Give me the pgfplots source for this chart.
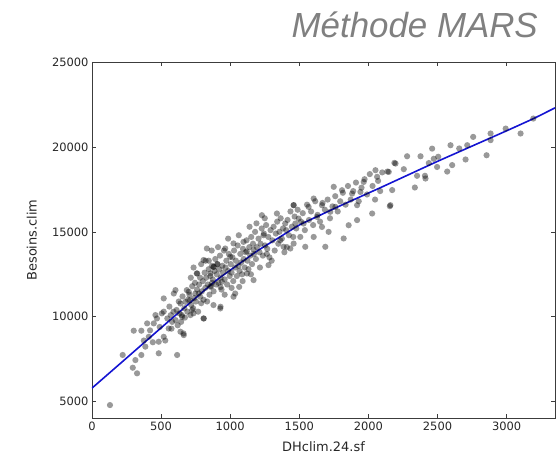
\documentclass[border=0pt]{standalone}
\usepackage{fontspec}
\usepackage{pgfplots}
\pgfplotsset{compat=1.18}
\newfontfamily\dejavu{DejaVu Sans}
\newfontfamily\libsans{Liberation Sans}
\definecolor{titlegray}{RGB}{128,128,128}
\definecolor{axisgray}{RGB}{60,60,60}
\definecolor{fitblue}{RGB}{20,20,210}

\pgfplotstableread{
x y
130 4800
222 7750
295 7000
326 6670
314 7450
357 7750
302 9180
357 9180
386 8240
375 8600
411 8820
399 9610
447 9610
459 10100
483 7850
483 8530
519 8820
519 11080
519 10300
555 9310
580 9700
570 10100
604 11570
592 11370
616 7750
640 9120
652 10000
664 8920
676 10880
640 10780
700 11470
725 10400
748 11370
761 12550
773 11370
809 9900
822 13300
845 13300
857 12550
869 12000
881 12940
906 13100
930 11750
930 10590
650 10100
662 9020
734 10200
807 9900
879 10690
928 10490
1036 11370
1065 11760
807 13340
758 12550
831 14020
1024 14320
964 14020
1096 14410
1120 13850
1169 13950
1229 15980
1338 16080
1241 14800
1265 13700
1277 13040
1362 14500
1410 14100
1459 16570
1471 15490
1435 14020
1000 13530
879 12940
1024 11180
940 12060
855 11770
783 11180
710 10980
686 11570
1121 12550
1169 12160
2196 19020
2051 18630
2147 18530
2063 18240
2159 16570
2027 16080
1966 17940
1918 16570
1882 17250
1809 17450
1749 17650
1761 16470
1857 15390
1918 15690
1821 14610
1724 16180
1664 16570
1604 16960
1567 16470
1459 16570
1398 15490
1495 15780
1531 15490
1628 15880
1664 15290
1712 15000
1604 14700
1507 14700
1459 14310
1386 14120
1543 14120
1688 14120
1942 17350
3193 21670
3101 20790
2993 21080
2884 20790
2884 20400
2758 20590
2855 19510
2715 20100
2703 19260
2657 19910
2594 20100
2606 18930
2570 18550
2505 19420
2461 19900
2473 19300
2437 19050
2497 18820
2377 19450
2280 19450
2256 18690
2188 19060
2138 18550
2100 18500
2352 18300
2409 18300
2413 18140
2336 17610
2155 16510
2172 17460
605 9800
612 10400
620 9500
628 10900
633 10200
645 9700
655 11200
668 10500
672 9950
690 10300
695 11000
705 11300
712 10100
718 10700
725 11800
732 10500
740 11100
745 12000
752 10900
760 11600
768 10300
775 11900
782 12300
790 10800
795 11500
802 12100
808 11000
815 12600
820 11700
826 12300
833 10900
838 11900
844 12800
850 11300
856 12400
862 11800
868 13000
874 12200
880 11500
886 12700
892 13400
898 11900
903 12500
908 13100
915 12000
920 12800
926 13600
931 12300
937 11600
943 13000
948 12600
955 13900
960 12200
966 12900
972 13300
978 11900
985 12700
990 13700
996 12400
1004 13100
1010 12600
1016 13500
1022 12100
1028 13900
1035 12900
1041 13300
1048 12400
1054 14200
1060 13000
1067 12700
1073 13700
1080 13200
1086 12500
1092 14000
1098 13400
1105 12900
1112 13800
1118 14500
1125 13300
1132 12800
1138 14100
1145 13600
1152 14700
1158 13100
1165 14300
1172 13700
1180 15000
1186 13400
1193 14100
1205 14600
1212 13800
1220 14300
1228 15200
1236 13600
1244 14900
1252 14200
1260 15400
1268 14000
1276 14700
1284 13500
1292 15100
1305 14500
1314 15300
1322 13900
1330 14900
1340 15600
1348 14300
1356 15000
1365 15800
1374 14600
1382 15200
1392 13800
1405 15100
1415 15700
1425 14800
1436 16200
1446 15300
1456 14700
1466 15900
1478 15200
1488 16300
1512 15600
1525 16100
1540 15100
1556 16600
1570 15700
1585 16200
1600 15400
1615 16800
1632 16000
1650 15600
1668 16700
1685 16300
1705 16900
1722 15800
1740 16500
1760 17100
1778 16200
1796 16800
1815 17300
1835 16600
1852 17700
1872 16900
1890 17400
1910 17900
1930 16800
1950 17600
1972 18100
1990 17200
2010 18400
2030 17700
2048 16900
2070 18000
2085 17400
420 9200
440 8500
470 9900
490 9400
505 10200
530 8600
545 9900
560 10600
575 9300
590 10300
715 12300
735 12900
790 13100
866 13900
912 14100
985 14600
1062 14800
1140 15300
960 11300
1010 11700
1090 12100
1150 12500
1215 12900
1300 13300
1250 15800
1190 15500
}\scatterdata

\pgfplotstableread{
x y
0 5800
250 7570
500 9350
700 10760
900 12150
1050 13030
1200 13900
1350 14650
1500 15400
1650 15980
1800 16550
1950 17100
2100 17650
2300 18400
2500 19150
2750 20050
3000 20950
3200 21690
3350 22300
}\fitdata

\begin{document}
\begin{tikzpicture}
\begin{axis}[
    scale only axis,
    width=463bp,
    height=356bp,
    xmin=0, xmax=3350,
    ymin=4040, ymax=25000,
    xtick={0,500,1000,1500,2000,2500,3000},
    ytick={5000,10000,15000,20000,25000},
    scaled ticks=false,
    tick align=inside,
    tick pos=both,
    major tick length=4bp,
    axis line style={axisgray, line width=0.8pt},
    every tick/.style={axisgray, line width=0.6pt},
    tick label style={font=\dejavu\fontsize{11.5}{13}\selectfont, text=black!85},
    /pgf/number format/assume math mode=true,
    /pgf/number format/1000 sep={},
    xlabel={DHclim.24.sf},
    ylabel={Besoins.clim},
    every axis x label/.style={at={(axis description cs:0.5,-0.081)}, anchor=center,
        font=\dejavu\fontsize{13}{15}\selectfont, text=black!85},
    every axis y label/.style={at={(axis description cs:-0.13,0.5)}, rotate=90, anchor=center,
        font=\dejavu\fontsize{13}{15}\selectfont, text=black!85},
    clip=true,
]
\addplot[only marks, mark=*, mark size=3.1bp,
    mark options={draw=black, draw opacity=0, fill=black, fill opacity=0.4}]
    table[x=x, y=y] {\scatterdata};
\addplot[fitblue, line width=1.6bp, smooth, tension=0.3] table[x=x, y=y] {\fitdata};
\end{axis}
\node[anchor=base east, font=\libsans\itshape\fontsize{35}{38}\selectfont, text=titlegray, inner sep=0pt]
    at ([xshift=-17bp, yshift=24bp]current axis.north east) {Méthode MARS};
\path ([xshift=-92bp, yshift=-39bp]current axis.south west) rectangle ([xshift=4bp, yshift=62bp]current axis.north east);
\end{tikzpicture}
\end{document}
